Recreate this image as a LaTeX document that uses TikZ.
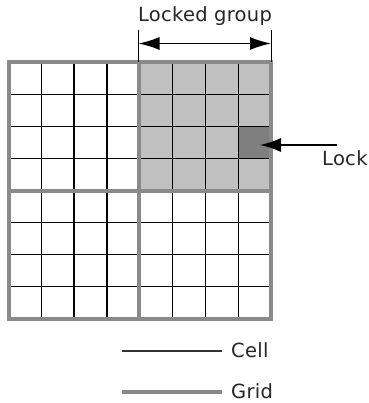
\documentclass[tikz,border=0pt]{standalone}
\usepackage{fontspec}
\setmainfont{DejaVu Sans}
\usetikzlibrary{arrows.meta}
\definecolor{shadeA}{HTML}{C0C0C0}
\definecolor{shadeB}{HTML}{7F7F7F}
\definecolor{gridgray}{HTML}{8A8A8A}
\begin{document}
\begin{tikzpicture}[x=1pt,y=-1pt,
  txt/.style={font=\fontsize{19.5}{22}\selectfont\addfontfeatures{LetterSpace=1.5}, text=black!85, inner sep=0pt},
  cellline/.style={line width=1.3pt, black},
  gridline/.style={line width=4pt, gridgray},
  bigtip/.style={line width=1.5pt, black},
]
\useasboundingbox (0,0) rectangle (368,403);
\fill[white] (0,0) rectangle (368,403);

% locked group and the locked cell
\fill[shadeA] (138.5,62.5) rectangle (271,190.5);
\fill[shadeB] (238.3,126.5) rectangle (271,158.5);

% cell lines
\foreach \i in {1,2,3,5,6,7} {
  \draw[cellline] ({8.5+\i*32.81},62.5) -- ({8.5+\i*32.81},318.5);
  \draw[cellline] (8.5,{62.5+\i*32}) -- (271,{62.5+\i*32});
}

% grid lines
\draw[gridline] (8.5,62.5) rectangle (271,318.5);
\draw[gridline] (138.75,62.5) -- (138.75,318.5);
\draw[gridline] (8.5,190.5) -- (271,190.5);

% locked group dimension
\coordinate (lgTopL) at (138.5,30);
\coordinate (lgBotL) at (138.5,62);
\coordinate (lgTopR) at (271,30);
\coordinate (lgBotR) at (271,62);
\coordinate (lgL) at (138.5,43.5);
\coordinate (lgR) at (271,43.5);
\draw[line width=1pt, black] (lgTopL) -- (lgBotL);
\draw[line width=1pt, black] (lgTopR) -- (lgBotR);
\draw[bigtip, {Latex[length=21pt,width=13pt]}-{Latex[length=21pt,width=13pt]}] (lgL) -- (lgR);
\node[txt, anchor=base] (lockedlabel) at (205,22) {Locked group};

% lock pointer
\coordinate (lockTail) at (337,145);
\coordinate (lockTip) at (260,145);
\draw[bigtip, -{Latex[length=21pt,width=14pt]}] (lockTail) -- (lockTip);
\node[txt, anchor=base west] (locklabel) at (322,165) {Lock};

% legend
\node[txt, anchor=base west] (celllabel) at (231,357) {Cell};
\node[txt, anchor=base west] (gridlabel) at (231,398) {Grid};
\coordinate (cellA) at (122,351);
\coordinate (cellB) at (222,351);
\coordinate (gridA) at (122,392);
\coordinate (gridB) at (222,392);
\draw[line width=1.6pt, black!80] (cellA) -- (cellB);
\draw[line width=4pt, gridgray] (gridA) -- (gridB);
\end{tikzpicture}
\end{document}
